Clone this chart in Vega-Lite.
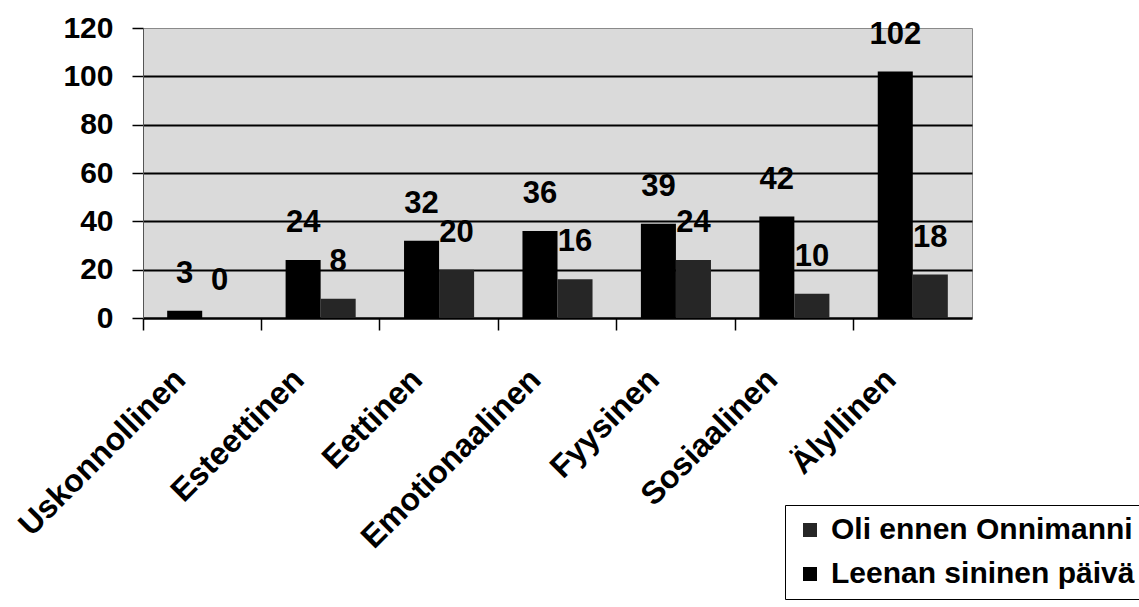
{
  "$schema": "https://vega.github.io/schema/vega-lite/v6.json",
  "autosize": "none",
  "width": 829,
  "height": 290,
  "padding": {"left": 143, "top": 28, "right": 167, "bottom": 289},
  "background": "white",
  "config": {
    "font": "Liberation Sans",
    "view": {"fill": "#dadada", "stroke": "#8a8a8a", "strokeWidth": 1}
  },
  "data": {
    "values": [
      {"category": "Uskonnollinen", "series": "Leenan sininen päivä", "value": 3},
      {"category": "Uskonnollinen", "series": "Oli ennen Onnimanni", "value": 0},
      {"category": "Esteettinen", "series": "Leenan sininen päivä", "value": 24},
      {"category": "Esteettinen", "series": "Oli ennen Onnimanni", "value": 8},
      {"category": "Eettinen", "series": "Leenan sininen päivä", "value": 32},
      {"category": "Eettinen", "series": "Oli ennen Onnimanni", "value": 20},
      {"category": "Emotionaalinen", "series": "Leenan sininen päivä", "value": 36},
      {"category": "Emotionaalinen", "series": "Oli ennen Onnimanni", "value": 16},
      {"category": "Fyysinen", "series": "Leenan sininen päivä", "value": 39},
      {"category": "Fyysinen", "series": "Oli ennen Onnimanni", "value": 24},
      {"category": "Sosiaalinen", "series": "Leenan sininen päivä", "value": 42},
      {"category": "Sosiaalinen", "series": "Oli ennen Onnimanni", "value": 10},
      {"category": "Älyllinen", "series": "Leenan sininen päivä", "value": 102},
      {"category": "Älyllinen", "series": "Oli ennen Onnimanni", "value": 18}
    ]
  },
  "encoding": {
    "x": {
      "field": "category",
      "type": "nominal",
      "sort": null,
      "scale": {"paddingInner": 0, "paddingOuter": 0},
      "axis": {
        "title": null,
        "labelAngle": -45,
        "labelFontSize": 32,
        "labelFontWeight": "bold",
        "labelColor": "black",
        "labelAlign": "right",
        "labelBaseline": "middle",
        "labelPadding": 44,
        "labelLimit": 400,
        "bandPosition": 0,
        "labelOffset": -22,
        "ticks": true,
        "tickSize": 12,
        "tickColor": "black",
        "tickWidth": 1.5,
        "domainColor": "black",
        "domainWidth": 2.5,
        "grid": false
      }
    },
    "xOffset": {
      "field": "series",
      "type": "nominal",
      "sort": ["Leenan sininen päivä", "Oli ennen Onnimanni"],
      "scale": {"paddingInner": 0, "paddingOuter": 0.69}
    },
    "y": {
      "field": "value",
      "type": "quantitative",
      "scale": {"domain": [0, 120], "nice": false},
      "axis": {
        "title": null,
        "values": [0, 20, 40, 60, 80, 100, 120],
        "labelFontSize": 30,
        "labelFontWeight": "bold",
        "labelColor": "black",
        "labelPadding": 19,
        "tickSize": 11,
        "tickColor": "black",
        "tickWidth": 1.5,
        "domainColor": "#555555",
        "domainWidth": 1,
        "grid": true,
        "gridColor": {
          "condition": {"test": "datum.value === 0 || datum.value === 120", "value": "transparent"},
          "value": "black"
        },
        "gridWidth": 2
      }
    }
  },
  "layer": [
    {
      "mark": {"type": "bar"},
      "encoding": {
        "color": {
          "field": "series",
          "type": "nominal",
          "scale": {
            "domain": ["Oli ennen Onnimanni", "Leenan sininen päivä"],
            "range": ["#262626", "#000000"]
          },
          "legend": {
            "title": null,
            "orient": "none",
            "legendX": 642,
            "legendY": 477,
            "direction": "vertical",
            "padding": 10,
            "rowPadding": 14,
            "strokeColor": "black",
            "fillColor": "white",
            "symbolType": "square",
            "symbolSize": 196,
            "symbolStrokeWidth": 0,
            "labelFontSize": 30,
            "labelFontWeight": "bold",
            "labelColor": "black",
            "labelLimit": 500,
            "labelOffset": 6
          }
        }
      }
    },
    {
      "mark": {
        "type": "text",
        "fontSize": 31,
        "fontWeight": "bold",
        "color": "black",
        "baseline": "alphabetic",
        "dy": -28
      },
      "encoding": {
        "text": {"field": "value", "type": "quantitative"}
      }
    }
  ]
}
